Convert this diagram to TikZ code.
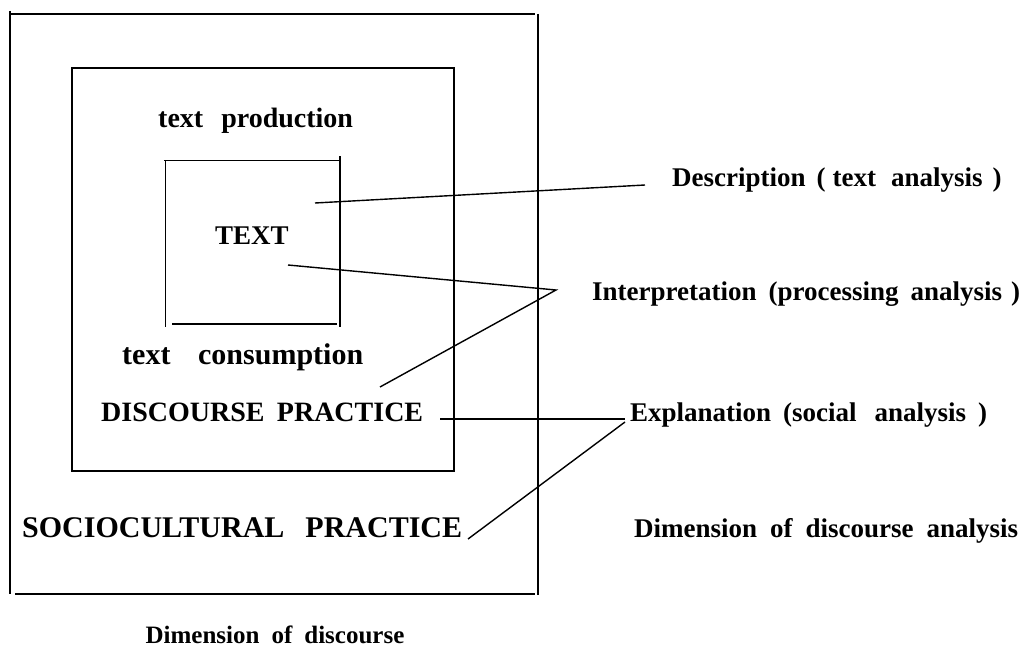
\documentclass[tikz,border=0pt]{standalone}
\usepackage{fontspec}
\setmainfont{Liberation Serif}
\begin{document}
\begin{tikzpicture}[x=1pt,y=-1pt,
  ln/.style={line width=1.8pt,black},
  cn/.style={line width=1.4pt,black},
  lbl/.style={font=\fontsize{27}{31}\selectfont\bfseries,inner sep=0pt,anchor=base west}]
\useasboundingbox (0,0) rectangle (1031,661);
% outer frame
\draw[ln] (10,11) -- (10,594);
\draw[ln] (10,14) -- (535,14);
\draw[ln] (538,14) -- (538,595);
\draw[ln] (15,594) -- (535,594);
% middle box
\draw[ln] (72,68) rectangle (454,471);
% inner box
\draw[ln] (165.5,160) -- (165.5,327);
\draw[ln] (164,160.5) -- (340,160.5);
\draw[ln] (340,156) -- (340,327);
\draw[ln] (172,324) -- (337,324);
% labels
\node[lbl,font=\fontsize{28}{32}\selectfont\bfseries] (tp) at (158,127) {text\hspace{18pt}production};
\node[lbl] (tx) at (215,244) {TEXT};
\node[lbl,font=\fontsize{30}{34}\selectfont\bfseries] (tc) at (122,364) {\makebox[241pt][s]{text consumption}};
\node[lbl,font=\fontsize{28}{32}\selectfont\bfseries] (dp) at (101,421) {\makebox[322pt][s]{DISCOURSE PRACTICE}};
\node[lbl,font=\fontsize{30}{34}\selectfont\bfseries] (sp) at (22,537) {\makebox[440pt][s]{SOCIOCULTURAL PRACTICE}};
\node[lbl,anchor=base,font=\fontsize{25}{29}\selectfont\bfseries] (dd) at (275,643) {Dimension\hspace{12pt}of\hspace{12pt}discourse};
\node[lbl] (desc) at (672,186) {Description\hspace{11pt}(\hspace{7pt}text\hspace{15pt}analysis\hspace{10pt})};
\node[lbl] (interp) at (592,300) {Interpretation\hspace{12pt}(processing\hspace{12pt}analysis\hspace{9pt})};
\node[lbl] (expl) at (630,421) {\makebox[357pt][s]{Explanation (social\hspace{6pt} analysis )}};
\node[lbl] (dda) at (634,537) {\makebox[384pt][s]{Dimension of discourse analysis}};
% connector points
\coordinate (a1) at (315,203);
\coordinate (a2) at (645,185);
\coordinate (b1) at (288,265);
\coordinate (b2) at (556,290);
\coordinate (c1) at (380,387);
\coordinate (d1) at (440,419);
\coordinate (d2) at (625,419);
\coordinate (e1) at (468,539);
\coordinate (e2) at (625,422);
\draw[cn] (a1) -- (a2);
\draw[cn] (b1) -- (b2) -- (c1);
\draw[cn] (d1) -- (d2);
\draw[cn] (e2) -- (e1);
\end{tikzpicture}
\end{document}
